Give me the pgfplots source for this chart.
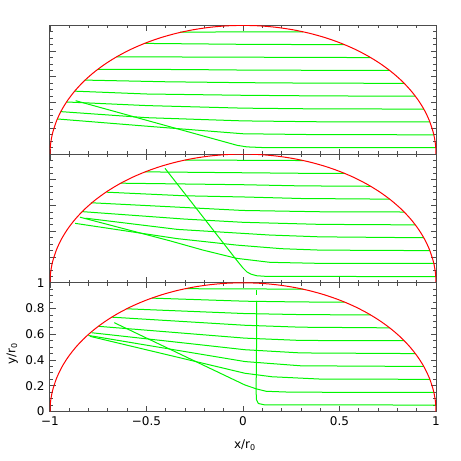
\documentclass[border=0pt]{standalone}
\usepackage{fontspec}
\setmainfont{DejaVu Sans}
\usepackage{pgfplots}
\usepackage{pgfplotstable}
\pgfplotsset{compat=1.18}
\definecolor{circred}{RGB}{255,0,0}
\definecolor{flowgreen}{RGB}{0,245,0}

% upper half of the unit circle, r = r_0
\pgfplotstableread{
x y
1.0000 0.0000
0.9990 0.0436
0.9962 0.0872
0.9914 0.1305
0.9848 0.1736
0.9659 0.2588
0.9397 0.3420
0.9063 0.4226
0.8660 0.5000
0.8192 0.5736
0.7660 0.6428
0.7071 0.7071
0.6428 0.7660
0.5736 0.8192
0.5000 0.8660
0.4226 0.9063
0.3420 0.9397
0.2588 0.9659
0.1736 0.9848
0.0872 0.9962
0.0000 1.0000
-0.0872 0.9962
-0.1736 0.9848
-0.2588 0.9659
-0.3420 0.9397
-0.4226 0.9063
-0.5000 0.8660
-0.5736 0.8192
-0.6428 0.7660
-0.7071 0.7071
-0.7660 0.6428
-0.8192 0.5736
-0.8660 0.5000
-0.9063 0.4226
-0.9397 0.3420
-0.9659 0.2588
-0.9848 0.1736
-0.9914 0.1305
-0.9962 0.0872
-0.9990 0.0436
-1.0000 0.0000
}\circletab

\pgfplotsset{
  panel/.style={
    scale only axis,
    width=386pt, height=128.7pt,
    xmin=-1, xmax=1, ymin=0, ymax=1,
    xtick={-1,-0.5,0,0.5,1},
    ytick={0,0.2,0.4,0.6,0.8,1},
    minor x tick num=4,
    minor y tick num=3,
    tick align=inside,
    xtick pos=both, ytick pos=both,
    major tick length=5.5pt,
    minor tick length=3pt,
    axis line style={black!70, line width=1pt},
    every tick/.style={black!70, line width=0.8pt},
    xticklabels={}, yticklabels={},
    tick label style={font=\fontsize{12}{14}\selectfont},
    label style={font=\fontsize{12}{14}\selectfont},
  },
  fl/.style={flowgreen, line width=1pt, solid, mark=none},
  circ/.style={circred, line width=1pt, smooth, mark=none},
}

\begin{document}
\begin{tikzpicture}
\path[use as bounding box] (0,0) rectangle (461pt,461pt);

% ---------- top panel ----------
\begin{axis}[panel, at={(50pt,306.9pt)}, anchor=south west]
\addplot[fl] coordinates {(-0.326,0.947)(0,0.950)(0.312,0.950)};
\addplot[fl] coordinates {(-0.508,0.860)(0,0.853)(0.527,0.850)};
\addplot[fl] coordinates {(-0.655,0.756)(0,0.753)(0.661,0.750)};
\addplot[fl] coordinates {(-0.752,0.659)(-0.3,0.657)(0,0.653)(0.4,0.651)(0.760,0.650)};
\addplot[fl] coordinates {(-0.818,0.575)(-0.4,0.562)(0,0.555)(0.4,0.551)(0.835,0.550)};
\addplot[fl] coordinates {(-0.872,0.489)(-0.5,0.467)(0,0.457)(0.4,0.452)(0.893,0.450)};
\addplot[fl] coordinates {(-0.914,0.405)(-0.5,0.377)(0,0.357)(0.4,0.351)(0.937,0.350)};
\addplot[fl] coordinates {(-0.944,0.330)(-0.5,0.283)(0,0.258)(0.4,0.251)(0.968,0.250)};
\addplot[fl] coordinates {(-0.962,0.273)(-0.5,0.217)(0,0.158)(0.4,0.151)(0.989,0.150)};
\addplot[fl] coordinates {(-0.867,0.415)(-0.03,0.068)(0.02,0.056)(0.1,0.051)(0.999,0.050)};
\addplot[circ] table {\circletab};
\end{axis}

% ---------- middle panel ----------
\begin{axis}[panel, at={(50pt,178.2pt)}, anchor=south west]
\addplot[fl] coordinates {(-0.301,0.954)(0,0.952)(0.312,0.950)};
\addplot[fl] coordinates {(-0.508,0.862)(0,0.855)(0.3,0.851)(0.527,0.850)};
\addplot[fl] coordinates {(-0.634,0.774)(0,0.762)(0.3,0.753)(0.661,0.750)};
\addplot[fl] coordinates {(-0.706,0.704)(-0.301,0.676)(0,0.667)(0.3,0.655)(0.760,0.650)};
\addplot[fl] coordinates {(-0.788,0.622)(-0.34,0.588)(0,0.562)(0.399,0.552)(0.835,0.550)};
\addplot[fl] coordinates {(-0.833,0.553)(-0.301,0.495)(0,0.470)(0.399,0.454)(0.893,0.450)};
\addplot[fl] coordinates {(-0.815,0.502)(-0.34,0.415)(0.14,0.371)(0.399,0.357)(0.937,0.350)};
\addplot[fl] coordinates {(-0.870,0.462)(-0.34,0.343)(-0.033,0.293)(0.2,0.265)(0.399,0.254)(0.968,0.250)};
\addplot[fl] coordinates {(-0.845,0.510)(-0.378,0.326)(-0.207,0.254)(-0.033,0.190)(0.14,0.159)(0.399,0.151)(0.989,0.150)};
\addplot[fl] coordinates {(-0.404,0.889)(-0.275,0.642)(-0.033,0.176)(0,0.115)(0.02,0.085)(0.04,0.068)(0.07,0.055)(0.12,0.050)(0.999,0.048)};
\addplot[circ] table {\circletab};
\end{axis}

% ---------- bottom panel ----------
\begin{axis}[panel, at={(50pt,49.5pt)}, anchor=south west,
  xticklabels={−1,−0.5,0,0.5,1},
  yticklabels={0,0.2,0.4,0.6,0.8,1},
  xticklabel style={yshift=-2pt},
  yticklabel style={xshift=-2pt},
  xlabel={x/r\textsubscript{0}},
  ylabel={y/r\textsubscript{0}},
  xlabel style={at={(axis description cs:0.505,-0.26)}, anchor=center},
  ylabel style={at={(axis description cs:-0.098,0.45)}, anchor=center},
]
\addplot[fl] coordinates {(-0.301,0.954)(0,0.953)(0.312,0.950)};
\addplot[fl] coordinates {(-0.473,0.881)(0.01,0.857)(0.3,0.851)(0.527,0.850)};
\addplot[fl] coordinates {(-0.603,0.798)(0.01,0.761)(0.3,0.753)(0.661,0.750)};
\addplot[fl] coordinates {(-0.680,0.733)(0.01,0.670)(0.3,0.655)(0.760,0.650)};
\addplot[fl] coordinates {(-0.750,0.662)(0.01,0.570)(0.3,0.552)(0.835,0.550)};
\addplot[fl] coordinates {(-0.784,0.612)(0.01,0.480)(0.3,0.455)(0.893,0.450)};
\addplot[fl] coordinates {(-0.801,0.591)(0.01,0.388)(0.3,0.355)(0.937,0.350)};
\addplot[fl] coordinates {(-0.793,0.584)(0.01,0.297)(0.15,0.270)(0.4,0.252)(0.968,0.250)};
\addplot[fl] coordinates {(-0.667,0.690)(0.01,0.206)(0.071,0.175)(0.12,0.157)(0.25,0.150)(0.989,0.148)};
\addplot[fl] coordinates {(0.071,0.860)(0.070,0.5)(0.068,0.15)(0.070,0.090)(0.080,0.062)(0.11,0.052)(0.999,0.050)};
\addplot[fl] coordinates {(0.072,0.945)(0.072,0.905)};
\addplot[circ] table {\circletab};
\end{axis}
\end{tikzpicture}
\end{document}
